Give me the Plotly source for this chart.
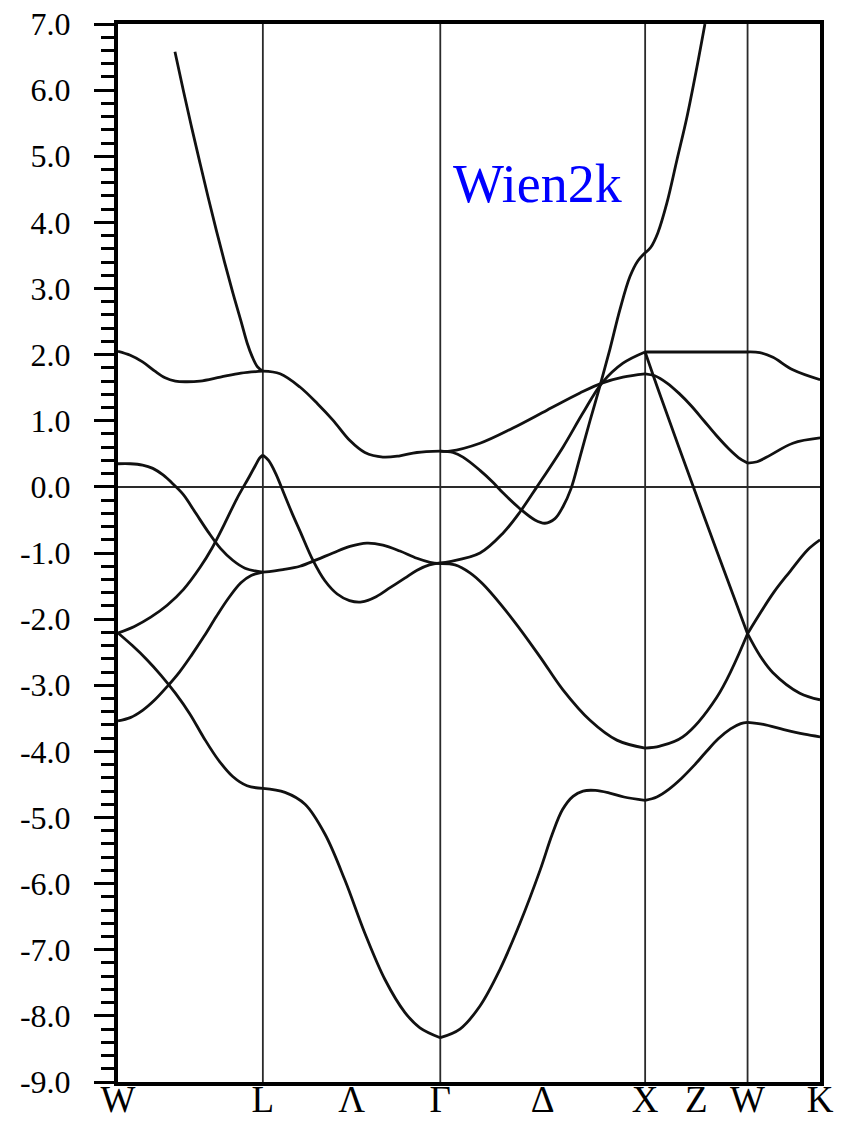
import numpy as np
import plotly.graph_objects as go

# fcc high-symmetry path (units of 2*pi/a)
path_labels = ["W", "L", "Γ", "X", "W", "K"]
path_coords = [(1.0, 0.5, 0.0), (0.5, 0.5, 0.5), (0.0, 0.0, 0.0),
               (1.0, 0.0, 0.0), (1.0, 0.5, 0.0), (0.75, 0.75, 0.0)]
line_labels = ["Λ", "Δ", "Z"]          # placed halfway along L-Γ, Γ-X, X-W
line_segments = [1, 2, 3]

# energy axis (eV)
e_ticks = [7.0, 6.0, 5.0, 4.0, 3.0, 2.0, 1.0, 0.0, -1.0, -2.0, -3.0,
           -4.0, -5.0, -6.0, -7.0, -8.0, -9.0]
e_ticktext = ["7.0", "6.0", "5.0", "4.0", "3.0", "2.0", "1.0", "0.0", "-1.0",
              "-2.0", "-3.0", "-4.0", "-5.0", "-6.0", "-7.0", "-8.0", "-9.0"]

# bands: k-distance and energy
band1_k = [0.278, 0.320, 0.360, 0.400, 0.440, 0.480, 0.520, 0.560, 0.600, 0.630, 0.655, 0.680, 0.707]
band1_e = [6.58, 5.98, 5.43, 4.90, 4.38, 3.88, 3.40, 2.94, 2.51, 2.18, 1.97, 1.82, 1.75]

band2_k = [0.000, 0.060, 0.120, 0.180, 0.230, 0.280, 0.330, 0.400, 0.500, 0.600, 0.707,
           0.791, 0.888, 0.976, 1.049, 1.132, 1.205, 1.293, 1.376, 1.459, 1.573,
           1.620, 1.767, 1.928, 2.094, 2.255, 2.362, 2.465, 2.573,
           2.620, 2.680, 2.740, 2.800, 2.860, 2.920, 2.980, 3.030, 3.073,
           3.120, 3.167, 3.294, 3.427]
band2_e = [2.05, 1.99, 1.89, 1.75, 1.65, 1.60, 1.59, 1.60, 1.66, 1.72, 1.75,
           1.71, 1.51, 1.25, 1.01, 0.70, 0.52, 0.45, 0.47, 0.52, 0.54,
           0.54, 0.66, 0.89, 1.16, 1.42, 1.57, 1.66, 1.71,
           1.68, 1.57, 1.41, 1.22, 1.00, 0.78, 0.58, 0.44, 0.36,
           0.38, 0.45, 0.66, 0.74]

band3_k = [0.000, 0.060, 0.120, 0.170, 0.220, 0.270, 0.320, 0.380, 0.440, 0.500, 0.560, 0.620, 0.707,
           0.805, 0.888, 0.971, 1.049, 1.132, 1.215, 1.293, 1.376, 1.459, 1.523, 1.573,
           1.645, 1.718, 1.781, 1.928, 2.060, 2.172, 2.304, 2.435, 2.573,
           2.645, 2.757, 2.923, 3.073,
           3.200, 3.280, 3.367, 3.427]
band3_e = [0.35, 0.35, 0.33, 0.28, 0.18, 0.04, -0.12, -0.40, -0.68, -0.93, -1.11, -1.23, -1.29,
           -1.25, -1.20, -1.10, -1.00, -0.90, -0.85, -0.88, -0.97, -1.08, -1.14, -1.16,
           -1.18, -1.30, -1.47, -2.01, -2.57, -3.07, -3.53, -3.83, -3.95,
           -3.92, -3.78, -3.18, -2.22,
           -1.60, -1.28, -0.95, -0.80]

band4_k = [0.000, 0.080, 0.160, 0.240, 0.320, 0.400, 0.460, 0.520, 0.580, 0.640, 0.670, 0.690, 0.707,
           0.735, 0.770, 0.810, 0.850, 0.890, 0.950, 1.010, 1.070, 1.130, 1.190, 1.260, 1.330,
           1.400, 1.460, 1.520, 1.573,
           1.620, 1.767, 1.879, 1.962, 2.045, 2.172, 2.270, 2.362, 2.465, 2.573,
           2.800, 3.073,
           3.133, 3.197, 3.294, 3.427]
band4_e = [-2.21, -2.11, -1.97, -1.79, -1.55, -1.22, -0.92, -0.56, -0.18, 0.15, 0.32, 0.43, 0.48,
           0.40, 0.20, -0.10, -0.40, -0.68, -1.10, -1.42, -1.62, -1.72, -1.74, -1.66, -1.52,
           -1.38, -1.26, -1.18, -1.15,
           -1.13, -1.00, -0.70, -0.38, 0.00, 0.60, 1.12, 1.57, 1.87, 2.04,
           2.04, 2.04,
           2.03, 1.96, 1.77, 1.62]

band5_k = [0.000, 0.060, 0.120, 0.180, 0.240, 0.300, 0.360, 0.420, 0.480, 0.540, 0.600, 0.650, 0.707]
band5_e = [-3.54, -3.49, -3.38, -3.22, -3.02, -2.80, -2.54, -2.26, -1.96, -1.68, -1.45, -1.34, -1.29]

band6_k = [0.000, 0.070, 0.140, 0.210, 0.280, 0.350, 0.420, 0.490, 0.560, 0.630, 0.707,
           0.815, 0.913, 1.010, 1.108, 1.205, 1.303, 1.401, 1.474, 1.573,
           1.669, 1.767, 1.864, 1.962, 2.060, 2.120, 2.170, 2.221, 2.270, 2.330, 2.400, 2.470, 2.573,
           2.630, 2.690, 2.750, 2.810, 2.870, 2.930, 2.990, 3.040, 3.073,
           3.150, 3.250, 3.350, 3.427]
band6_e = [-2.21, -2.40, -2.61, -2.85, -3.12, -3.43, -3.80, -4.13, -4.38, -4.52, -4.56,
           -4.62, -4.80, -5.25, -5.95, -6.75, -7.45, -7.95, -8.18, -8.33,
           -8.20, -7.85, -7.30, -6.60, -5.80, -5.25, -4.88, -4.68, -4.60, -4.59, -4.63, -4.69, -4.74,
           -4.69, -4.57, -4.41, -4.22, -4.01, -3.81, -3.66, -3.58, -3.56,
           -3.59, -3.67, -3.74, -3.78]

band7_k = [1.573, 1.635, 1.684, 1.767, 1.830, 1.879, 1.962, 2.035, 2.084, 2.133, 2.172,
           2.211, 2.255, 2.304, 2.352, 2.401, 2.450, 2.499, 2.538, 2.573,
           2.600, 2.635, 2.679, 2.728, 2.777, 2.826, 2.865]
band7_e = [0.54, 0.52, 0.45, 0.25, 0.07, -0.09, -0.33, -0.50, -0.55, -0.48, -0.30,
           -0.03, 0.45, 1.00, 1.52, 2.08, 2.68, 3.18, 3.42, 3.54,
           3.62, 3.84, 4.29, 4.94, 5.59, 6.35, 7.00]

band8_k = [2.573, 2.645, 2.806, 2.923, 3.073, 3.133, 3.197, 3.328, 3.427]
band8_e = [2.04, 1.40, 0.02, -0.97, -2.22, -2.55, -2.81, -3.12, -3.22]

bands = [(band1_k, band1_e), (band2_k, band2_e), (band3_k, band3_e), (band4_k, band4_e),
         (band5_k, band5_e), (band6_k, band6_e), (band7_k, band7_e), (band8_k, band8_e)]

# cumulative distance along the path
pts = np.array(path_coords)
path_k = np.concatenate([[0.0], np.cumsum(np.linalg.norm(np.diff(pts, axis=0), axis=1))])
k_min, k_max = path_k[0], path_k[-1]
inner_k = path_k[1:-1]

tick_k = list(path_k) + [(path_k[i] + path_k[i + 1]) / 2 for i in line_segments]
tick_txt = path_labels + line_labels


def split_at_nodes(k, e, tol=0.005):
    """Break a band into pieces at the high-symmetry points so that the
    spline smoothing never runs across a zone-boundary kink."""
    pieces, ck, ce = [], [k[0]], [e[0]]
    for kk, ee in zip(k[1:], e[1:]):
        ck.append(kk)
        ce.append(ee)
        if np.any(np.abs(inner_k - kk) < tol):
            pieces.append((ck, ce))
            ck, ce = [kk], [ee]
    if len(ck) > 1:
        pieces.append((ck, ce))
    return pieces


fig = go.Figure()

for bk, be in bands:
    for pk, pe in split_at_nodes(bk, be):
        fig.add_trace(go.Scatter(
            x=pk, y=pe, mode="lines",
            line=dict(color="#111111", width=2.8, shape="spline", smoothing=1.0),
            hoverinfo="skip", showlegend=False))

# vertical lines at interior high-symmetry points
for kv in inner_k:
    fig.add_shape(type="line", xref="x", yref="y", x0=kv, x1=kv, y0=-9, y1=7,
                  line=dict(color="#2a2a2a", width=1.8), layer="below")

serif = "Liberation Serif, Times New Roman, serif"

fig.add_annotation(text="Wien2k", xref="paper", yref="paper", x=0.598, y=0.849,
                   xanchor="center", yanchor="middle", showarrow=False,
                   font=dict(family=serif, size=54, color="#0000ff"))

fig.update_xaxes(range=[k_min, k_max], showgrid=False, zeroline=False, automargin=False,
                 showline=True, linecolor="black", linewidth=4, mirror=True,
                 tickmode="array", tickvals=tick_k, ticktext=tick_txt, ticks="",
                 ticklabelstandoff=-18,
                 tickfont=dict(family=serif, size=37, color="black"))

fig.update_yaxes(range=[-9, 7], showgrid=False, automargin=False,
                 zeroline=True, zerolinecolor="#2a2a2a", zerolinewidth=2,
                 showline=True, linecolor="black", linewidth=4, mirror=True,
                 tickmode="array", tickvals=e_ticks, ticktext=e_ticktext,
                 ticks="outside", ticklen=20, tickwidth=3, tickcolor="black",
                 ticklabelstandoff=17,
                 minor=dict(tickmode="linear", tick0=-9, dtick=0.2, ticks="outside",
                            ticklen=13, tickwidth=3, tickcolor="black", showgrid=False),
                 tickfont=dict(family=serif, size=32, color="black"))

fig.update_layout(width=848, height=1122,
                  margin=dict(l=118, r=28, t=24, b=40),
                  plot_bgcolor="white", paper_bgcolor="white",
                  showlegend=False)

fig.write_html("out.html")
